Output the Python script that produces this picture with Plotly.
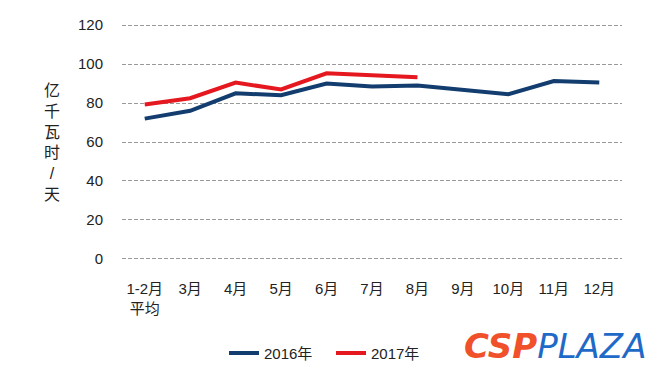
import plotly.graph_objects as go

categories = ["1-2月<br>平均", "3月", "4月", "5月", "6月", "7月", "8月", "9月", "10月", "11月", "12月"]
values_2016 = [72, 76, 85, 84, 90, 88.5, 89, 86.5, 84.5, 91.3, 90.5]
values_2017 = [79.3, 82.5, 90.5, 87, 95.3, 94.5, 93.2]
series_names = ["2016年", "2017年"]
y_ticks = [0, 20, 40, 60, 80, 100, 120]

FONT = "Liberation Sans, Noto Sans CJK SC, sans-serif"

fig = go.Figure()
fig.add_trace(go.Scatter(x=categories, y=values_2016, mode="lines", name=series_names[0],
                         line=dict(color="#123D6E", width=4)))
fig.add_trace(go.Scatter(x=categories[:len(values_2017)], y=values_2017, mode="lines", name=series_names[1],
                         line=dict(color="#E5171F", width=4)))

fig.update_layout(
    width=662, height=371,
    margin=dict(l=122, r=40, t=24, b=111),
    paper_bgcolor="white", plot_bgcolor="white",
    font=dict(family=FONT, size=15, color="#222222"),
    showlegend=True,
    legend=dict(orientation="h", xref="container", yref="container", x=0.5, y=0.048,
                xanchor="center", yanchor="middle", font=dict(size=15, color="#222222"),
                entrywidth=62, entrywidthmode="pixels", tracegroupgap=0),
    xaxis=dict(type="category", categoryorder="array", categoryarray=categories,
               range=[-0.5, 10.5], showgrid=False, showline=False, ticks="",
               tickfont=dict(size=15), ticklabelstandoff=18),
    yaxis=dict(range=[-0.6, 120.6], tickvals=y_ticks, showgrid=True, gridcolor="#999999",
               griddash="4px,2px", gridwidth=1, zeroline=False, showline=False, ticks="",
               tickfont=dict(size=15), ticklabelstandoff=18),
    annotations=[
        dict(text="亿<br>千<br>瓦<br>时<br>/<br>天", xref="paper", yref="paper",
             x=(52 - 122) / 500, y=(259 - 142) / 234, showarrow=False,
             xanchor="center", yanchor="middle", font=dict(size=16, color="#222222")),
        dict(text="<b><i><span style='color:#F0502A'>CSP</span></i></b><i><span style='color:#1F6AC8'>PLAZA</span></i>",
             xref="paper", yref="paper", x=(462 - 122) / 500, y=(259 - 344) / 234,
             xanchor="left", yanchor="middle", showarrow=False,
             font=dict(size=34, family="DejaVu Sans, sans-serif")),
    ],
)

fig.write_html("out.html", config={"displayModeBar": False},
               post_script="document.body.style.margin='0';")
